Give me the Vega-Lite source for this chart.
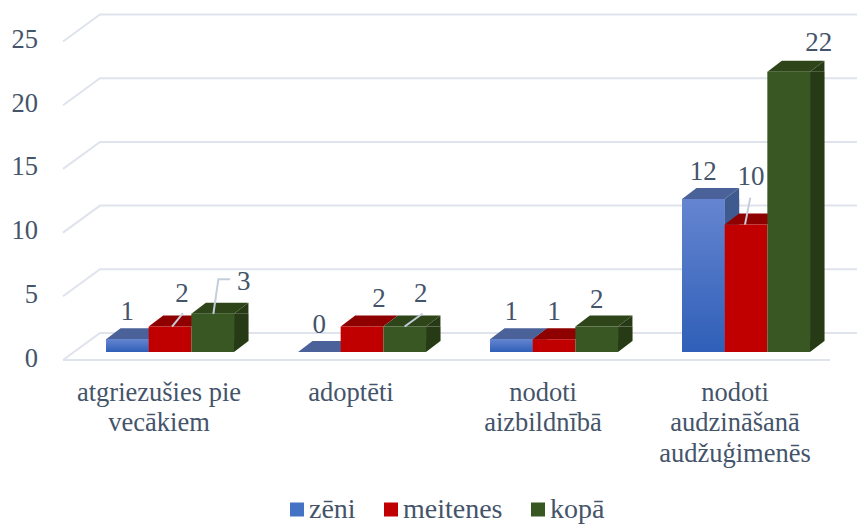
{
"$schema":"https://vega.github.io/schema/vega-lite/v6.json",
"width":768,"height":318.5,
"autosize":{"type":"none"},
"padding":{"left":74,"top":33.5,"right":15,"bottom":173},
"background":"white",
"datasets":{
"bars":[
{"cat":"atgriezušies pie vecākiem","series":"zēni","v":1},
{"cat":"atgriezušies pie vecākiem","series":"meitenes","v":2},
{"cat":"atgriezušies pie vecākiem","series":"kopā","v":3},
{"cat":"adoptēti","series":"zēni","v":0},
{"cat":"adoptēti","series":"meitenes","v":2},
{"cat":"adoptēti","series":"kopā","v":2},
{"cat":"nodoti aizbildnībā","series":"zēni","v":1},
{"cat":"nodoti aizbildnībā","series":"meitenes","v":1},
{"cat":"nodoti aizbildnībā","series":"kopā","v":2},
{"cat":"nodoti audzināšanā audžuģimenēs","series":"zēni","v":12},
{"cat":"nodoti audzināšanā audžuģimenēs","series":"meitenes","v":10},
{"cat":"nodoti audzināšanā audžuģimenēs","series":"kopā","v":22}
],
"ticks":[{"tick":0},{"tick":5},{"tick":10},{"tick":15},{"tick":20},{"tick":25}]
},
"config":{
"view":{"stroke":null},
"font":"Liberation Serif",
"axis":{"domain":false,"ticks":false,"grid":false,"labelFont":"Liberation Serif","labelColor":"#44546a","labelFontSize":26.5},
"legend":{"labelFont":"Liberation Serif","labelColor":"#44546a","labelFontSize":28}
},
"layer":[
{"data":{"name":"ticks"},"mark":{"type":"point","shape":"M-395,8L-358,-19L399,-19","size":4,"filled":false,"stroke":"#dfe3ec","strokeWidth":2,"opacity":1},
 "encoding":{"y":{"field":"tick","type":"quantitative","title":null,"scale":{"domain":[0,25],"nice":false},"axis":{"values":[0,5,10,15,20,25],"labelPadding":36.5,"labelOffset":6}}}},
{"data":{"name":"ticks"},"transform":[{"filter":"datum.tick==0"}],"mark":{"type":"point","shape":"M-395,8L372,8","size":4,"filled":false,"stroke":"#dfe3ec","strokeWidth":2,"opacity":1},
 "encoding":{"y":{"field":"tick","type":"quantitative","title":null}}},
{"data":{"name":"bars"},
 "encoding":{
  "x":{"field":"cat","type":"nominal","title":null,"scale":{"domain":["atgriezušies pie vecākiem","adoptēti","nodoti aizbildnībā","nodoti audzināšanā audžuģimenēs"],"paddingInner":0,"paddingOuter":0},
   "axis":{"labelAngle":0,"labelPadding":27,"labelOffset":-11,"labelLineHeight":30.5,"labelBaseline":"top","labelLimit":300,
    "labelExpr":"datum.value=='atgriezušies pie vecākiem'?['atgriezušies pie','vecākiem']:datum.value=='nodoti aizbildnībā'?['nodoti','aizbildnībā']:datum.value=='nodoti audzināšanā audžuģimenēs'?['nodoti','audzināšanā','audžuģimenēs']:datum.value"}},
  "xOffset":{"field":"series","type":"nominal","scale":{"type":"band","domain":["zēni","meitenes","kopā"],"paddingInner":0,"paddingOuter":0.75}}
 },
 "layer":[
  {"transform":[{"filter":"datum.series=='zēni'"}],"layer":[
   {"transform":[{"filter":"datum.v>0"}],"mark":{"type":"bar","width":14.5,"xOffset":-14,"y2Offset":-11,"color":"#3f5a8e"},"encoding":{"xOffset":null,"y":{"field":"v","type":"quantitative","title":null,"stack":null},"y2":{"datum":0}}},
   {"transform":[{"filter":"datum.v>0"}],"mark":{"type":"point","filled":true,"shape":"M21.3,0L35.8,-11L35.8,0Z","size":4,"fill":"#3f5a8e","opacity":1},"encoding":{"y":{"field":"v","type":"quantitative","title":null}}},
   {"transform":[{"filter":"datum.v>0"}],"mark":{"type":"point","filled":true,"shape":"M21.3,0L35.8,-11L21.3,-11Z","size":4,"fill":"#3f5a8e","opacity":1},"encoding":{"y":{"datum":0,"type":"quantitative","title":null}}},
   {"mark":{"type":"point","filled":true,"shape":"M-21.3,0L-6.8,-11L35.8,-11L21.3,0Z","size":4,"fill":"#4a6299","opacity":1},"encoding":{"y":{"field":"v","type":"quantitative","title":null}}},
   {"mark":{"type":"bar"},"encoding":{"y":{"field":"v","type":"quantitative","title":null,"stack":null},"y2":{"datum":0},
     "color":{"field":"series","type":"nominal","scale":{"domain":["zēni","meitenes","kopā"],"range":["#4472c4","#c00000","#385723"]},"legend":{"orient":"none","legendX":209,"legendY":462,"direction":"horizontal","title":null,"symbolType":"square","symbolSize":196,"symbolStrokeWidth":0,"symbolOpacity":1,"columnPadding":21,"labelOffset":-2}}}},
   {"mark":{"type":"bar","color":{"gradient":"linear","x1":0,"y1":0,"x2":0,"y2":1,"stops":[{"offset":0,"color":"#6585d0"},{"offset":1,"color":"#2f5fb8"}]}},"encoding":{"y":{"field":"v","type":"quantitative","title":null,"stack":null},"y2":{"datum":0}}}
  ]},
  {"transform":[{"filter":"datum.series=='meitenes'"}],"layer":[
   {"mark":{"type":"point","filled":true,"shape":"M-21.3,0L-6.8,-11L35.8,-11L21.3,0Z","size":4,"fill":"#8f0000","opacity":1},"encoding":{"y":{"field":"v","type":"quantitative","title":null}}},
   {"mark":{"type":"bar"},"encoding":{"y":{"field":"v","type":"quantitative","title":null,"stack":null},"y2":{"datum":0},
     "color":{"field":"series","type":"nominal"}}}
  ]},
  {"transform":[{"filter":"datum.series=='kopā'"}],"layer":[
   {"mark":{"type":"bar","width":14.5,"xOffset":71.3,"y2Offset":-11,"color":"#263a15"},"encoding":{"xOffset":null,"y":{"field":"v","type":"quantitative","title":null,"stack":null},"y2":{"datum":0}}},
   {"mark":{"type":"point","filled":true,"shape":"M21.3,0L35.8,-11L35.8,0Z","size":4,"fill":"#263a15","opacity":1},"encoding":{"y":{"field":"v","type":"quantitative","title":null}}},
   {"mark":{"type":"point","filled":true,"shape":"M21.3,0L35.8,-11L21.3,-11Z","size":4,"fill":"#263a15","opacity":1},"encoding":{"y":{"datum":0,"type":"quantitative","title":null}}},
   {"mark":{"type":"point","filled":true,"shape":"M-21.3,0L-6.8,-11L35.8,-11L21.3,0Z","size":4,"fill":"#2d4519","opacity":1},"encoding":{"y":{"field":"v","type":"quantitative","title":null}}},
   {"mark":{"type":"bar"},"encoding":{"y":{"field":"v","type":"quantitative","title":null,"stack":null},"y2":{"datum":0},
     "color":{"field":"series","type":"nominal"}}}
  ]},
  {"transform":[{"filter":"datum.series=='meitenes'&&datum.cat=='atgriezušies pie vecākiem'"}],"mark":{"type":"point","filled":false,"shape":"M2,0L13,-13.5","size":4,"stroke":"#c5cedb","strokeWidth":2,"opacity":1},"encoding":{"y":{"field":"v","type":"quantitative","title":null}}},
  {"transform":[{"filter":"datum.series=='kopā'&&datum.cat=='atgriezušies pie vecākiem'"}],"mark":{"type":"point","filled":false,"shape":"M0.7,0L5.7,-34.5L17.4,-34.5","size":4,"stroke":"#c5cedb","strokeWidth":2,"opacity":1},"encoding":{"y":{"field":"v","type":"quantitative","title":null}}},
  {"transform":[{"filter":"datum.series=='kopā'&&datum.cat=='adoptēti'"}],"mark":{"type":"point","filled":false,"shape":"M0,0L18,-13","size":4,"stroke":"#c5cedb","strokeWidth":2,"opacity":1},"encoding":{"y":{"field":"v","type":"quantitative","title":null}}},
  {"transform":[{"filter":"datum.series=='meitenes'&&datum.cat=='nodoti audzināšanā audžuģimenēs'"}],"mark":{"type":"point","filled":false,"shape":"M-1,0L4.3,-27","size":4,"stroke":"#c5cedb","strokeWidth":2,"opacity":1},"encoding":{"y":{"field":"v","type":"quantitative","title":null}}},
  {"transform":[{"filter":"datum.series=='zēni'||(datum.cat=='nodoti aizbildnībā')"}],"mark":{"type":"text","font":"Liberation Serif","fontSize":27,"color":"#44546a","baseline":"middle","dy":-27},"encoding":{"y":{"field":"v","type":"quantitative","title":null},"text":{"field":"v","type":"quantitative"}}},
  {"transform":[{"filter":"datum.series=='meitenes'&&datum.cat=='adoptēti'"}],"mark":{"type":"text","font":"Liberation Serif","fontSize":27,"color":"#44546a","baseline":"middle","dx":17,"dy":-28},"encoding":{"y":{"field":"v","type":"quantitative","title":null},"text":{"field":"v","type":"quantitative"}}},
  {"transform":[{"filter":"datum.series=='kopā'&&datum.cat=='adoptēti'"}],"mark":{"type":"text","font":"Liberation Serif","fontSize":27,"color":"#44546a","baseline":"middle","dx":16,"dy":-33},"encoding":{"y":{"field":"v","type":"quantitative","title":null},"text":{"field":"v","type":"quantitative"}}},
  {"transform":[{"filter":"datum.series=='meitenes'&&datum.cat=='atgriezušies pie vecākiem'"}],"mark":{"type":"text","font":"Liberation Serif","fontSize":27,"color":"#44546a","baseline":"middle","dx":12,"dy":-33},"encoding":{"y":{"field":"v","type":"quantitative","title":null},"text":{"field":"v","type":"quantitative"}}},
  {"transform":[{"filter":"datum.series=='kopā'&&datum.cat=='atgriezušies pie vecākiem'"}],"mark":{"type":"text","font":"Liberation Serif","fontSize":27,"color":"#44546a","baseline":"middle","dx":31,"dy":-32},"encoding":{"y":{"field":"v","type":"quantitative","title":null},"text":{"field":"v","type":"quantitative"}}},
  {"transform":[{"filter":"datum.series=='meitenes'&&datum.cat=='nodoti audzināšanā audžuģimenēs'"}],"mark":{"type":"text","font":"Liberation Serif","fontSize":27,"color":"#44546a","baseline":"middle","dx":5,"dy":-47.5},"encoding":{"y":{"field":"v","type":"quantitative","title":null},"text":{"field":"v","type":"quantitative"}}},
  {"transform":[{"filter":"datum.series=='kopā'&&datum.cat=='nodoti audzināšanā audžuģimenēs'"}],"mark":{"type":"text","font":"Liberation Serif","fontSize":27,"color":"#44546a","baseline":"middle","dx":30,"dy":-28.5},"encoding":{"y":{"field":"v","type":"quantitative","title":null},"text":{"field":"v","type":"quantitative"}}}
 ]
}
]
}
